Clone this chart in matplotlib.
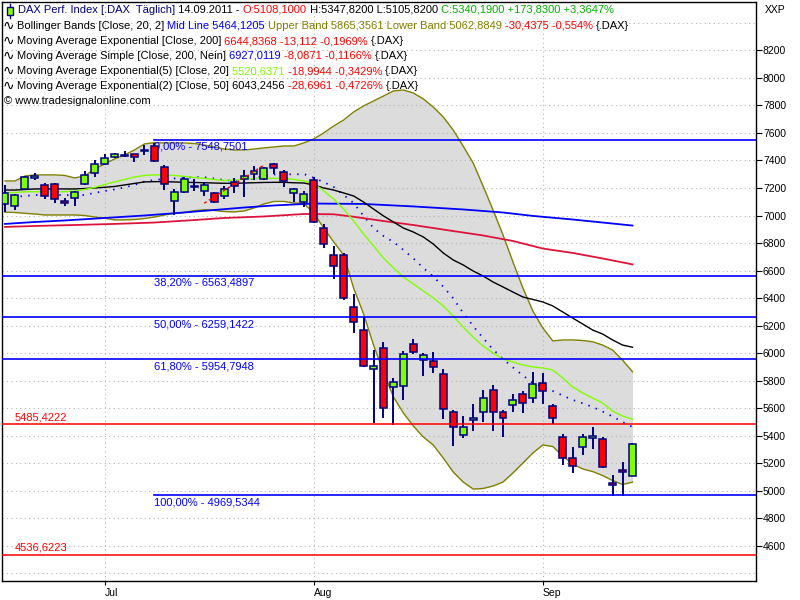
import matplotlib
matplotlib.use('agg')
import matplotlib.pyplot as plt
import numpy as np

# daily DAX bars, 17.06.2011 .. 14.09.2011 (bar index on the x axis)
opens = [7082, 7071, 7193, 7280, 7220, 7229, 7102, 7130, 7227, 7307,
         7372, 7423, 7434, 7447, 7470, 7505, 7355, 7108, 7169, 7211,
         7180, 7162, 7144, 7246, 7263, 7302, 7265, 7372, 7314, 7162,
         7101, 7258, 6907, 6713, 6713, 6338, 6168, 5887, 6036, 5757,
         5764, 6067, 5951, 5943, 5847, 5571, 5403, 5518, 5571, 5730,
         5571, 5621, 5701, 5672, 5781, 5616, 5393, 5236, 5316, 5392,
         5374, 5050, 5147, 5108.1]
highs = [7222, 7155, 7285, 7307, 7238, 7238, 7125, 7180, 7324, 7404,
         7447, 7455, 7471, 7450, 7512, 7529, 7367, 7191, 7282, 7263,
         7246, 7173, 7215, 7271, 7331, 7360, 7350, 7384, 7331, 7202,
         7180, 7282, 6936, 6779, 6730, 6428, 6265, 6023, 6083, 5818,
         6016, 6103, 5999, 6011, 5885, 5587, 5544, 5631, 5733, 5769,
         5587, 5704, 5725, 5861, 5854, 5629, 5413, 5316, 5413, 5462,
         5393, 5115, 5212, 5347.82]
lows = [7028, 7040, 7185, 7258, 7118, 7093, 7069, 7071, 7222, 7282,
        7370, 7415, 7423, 7391, 7440, 7391, 7185, 7004, 7160, 7178,
        7142, 7089, 7120, 7162, 7137, 7258, 7260, 7302, 7210, 7101,
        7060, 6945, 6766, 6536, 6386, 6144, 5902, 5491, 5527, 5478,
        5660, 5992, 5836, 5858, 5522, 5328, 5382, 5437, 5502, 5437,
        5389, 5575, 5563, 5636, 5629, 5483, 5188, 5132, 5260, 5304,
        5164, 4960, 4960, 5105.82]
closes = [7162, 7149, 7282, 7284, 7144, 7118, 7099, 7169, 7295, 7372,
          7416, 7447, 7437, 7428, 7472, 7398, 7227, 7169, 7265, 7208,
          7222, 7101, 7191, 7217, 7287, 7324, 7343, 7348, 7251, 7191,
          7157, 6951, 6791, 6636, 6403, 6229, 5909, 5905, 5600, 5791,
          5994, 6011, 5987, 5897, 5592, 5466, 5462, 5521, 5672, 5573,
          5527, 5660, 5636, 5776, 5725, 5527, 5236, 5180, 5393, 5394,
          5175, 5048, 5145, 5340.19]

month_pos = [10, 31, 54]
month_lbl = ['Jul', 'Aug', 'Sep']

# Bollinger Bands [Close, 20, 2]
bb_upper = [7251, 7251, 7287, 7295, 7295, 7295, 7291, 7273, 7287, 7338,
            7374, 7411, 7440, 7476, 7520, 7529, 7527, 7527, 7527, 7523,
            7512, 7498, 7483, 7476, 7476, 7483, 7491, 7498, 7505, 7505,
            7527, 7556, 7600, 7650, 7694, 7752, 7796, 7832, 7868, 7905,
            7912, 7890, 7847, 7788, 7716, 7621, 7505, 7382, 7214, 7040,
            6859, 6662, 6473, 6306, 6183, 6089, 6096, 6096, 6092, 6083,
            6059, 6023, 5950, 5865]
bb_mid = [7135, 7135, 7142, 7149, 7149, 7149, 7149, 7146, 7149, 7164,
          7178, 7189, 7204, 7222, 7247, 7258, 7265, 7269, 7273, 7278,
          7278, 7269, 7258, 7251, 7254, 7269, 7287, 7298, 7302, 7298,
          7302, 7273, 7243, 7207, 7149, 7091, 6997, 6909, 6851, 6808,
          6750, 6688, 6619, 6557, 6483, 6399, 6292, 6197, 6110, 6027,
          5958, 5896, 5838, 5783, 5754, 5725, 5692, 5660, 5636, 5609,
          5576, 5540, 5500, 5464]
bb_lower = [7024, 7022, 7016, 7011, 7004, 7004, 7004, 7004, 7000, 6989,
            6980, 6968, 6968, 6971, 6978, 6989, 7004, 7015, 7022, 7035,
            7042, 7037, 7029, 7026, 7033, 7055, 7084, 7102, 7102, 7091,
            7087, 7018, 6909, 6808, 6713, 6473, 6285, 6059, 5863, 5682,
            5565, 5471, 5391, 5333, 5238, 5137, 5064, 5013, 5017, 5035,
            5064, 5130, 5202, 5275, 5333, 5322, 5253, 5195, 5159, 5140,
            5111, 5075, 5046, 5063]

# Moving Average Exponential(5) [Close, 20]
ema20 = [7164, 7167, 7173, 7173, 7173, 7173, 7173, 7178, 7189, 7204,
         7225, 7244, 7262, 7280, 7291, 7295, 7295, 7291, 7284, 7276,
         7270, 7262, 7254, 7258, 7265, 7269, 7270, 7270, 7269, 7262,
         7251, 7233, 7178, 7120, 7047, 6960, 6866, 6779, 6691, 6619,
         6553, 6503, 6452, 6401, 6343, 6270, 6190, 6117, 6052, 6001,
         5958, 5936, 5914, 5900, 5892, 5878, 5820, 5754, 5711, 5674,
         5638, 5580, 5543, 5521]
# Moving Average Exponential(2) [Close, 50]
ema50 = [7185, 7185, 7189, 7193, 7193, 7193, 7193, 7193, 7196, 7200,
         7205, 7211, 7222, 7233, 7244, 7246, 7246, 7244, 7241, 7240,
         7238, 7236, 7234, 7234, 7236, 7238, 7240, 7241, 7241, 7238,
         7236, 7222, 7200, 7185, 7164, 7142, 7098, 7047, 6997, 6953,
         6909, 6880, 6844, 6793, 6728, 6677, 6641, 6597, 6561, 6517,
         6481, 6444, 6408, 6390, 6372, 6343, 6299, 6255, 6212, 6168,
         6139, 6096, 6059, 6043]
# Moving Average Simple [Close, 200]
sma200_idx = [0, 3, 6, 10, 14, 18, 21, 24, 27, 31, 36, 41, 46, 50, 53, 57, 60, 63]
sma200 = [6939, 6953, 6964, 6982, 7000, 7022, 7040, 7058, 7073, 7087,
          7084, 7066, 7044, 7022, 6997, 6971, 6949, 6927]
# Moving Average Exponential [Close, 200]
ema200_idx = [0, 3, 7, 11, 15, 19, 22, 26, 30, 33, 35, 38, 41, 44, 48, 51, 54, 57, 60, 63]
ema200 = [6917, 6924, 6931, 6939, 6949, 6967, 6982, 6993, 7011, 7009,
          6991, 6960, 6931, 6898, 6855, 6815, 6760, 6728, 6688, 6645]

trend_x = [20, 26]
trend_y = [7089, 7367]

fib_start = 15
fib_levels = [7548.7501, 6563.4897, 6259.1422, 5954.7948, 4969.5344]
fib_names = ['0,00%', '38,20%', '50,00%', '61,80%', '100,00%']
fib_full = [False, True, True, True, False]
red_levels = [5485.4222, 4536.6223]

header = [
    [('DAX Perf. Index [.DAX  Täglich]', '#000080'), (' 14.09.2011 - ', 'black'),
     ('O:5108,1000', '#ff0000'), (' H:5347,8200 L:5105,8200 ', 'black'),
     ('C:5340,1900 +173,8300 +3,3647%', '#00b000')],
    [('Bollinger Bands [Close, 20, 2] ', 'black'), ('Mid Line 5464,1205 ', '#0000ff'),
     ('Upper Band 5865,3561 Lower Band 5062,8849 ', '#808000'),
     ('-30,4375 -0,554% ', '#ff0000'), ('{.DAX}', 'black')],
    [('Moving Average Exponential [Close, 200] ', 'black'),
     ('6644,8368 -13,112 -0,1969% ', '#ff0000'), ('{.DAX}', 'black')],
    [('Moving Average Simple [Close, 200, Nein] ', 'black'), ('6927,0119 ', '#0000ff'),
     ('-8,0871 -0,1166% ', '#ff0000'), ('{.DAX}', 'black')],
    [('Moving Average Exponential(5) [Close, 20] ', 'black'), ('5520,6371 ', '#80ff00'),
     ('-18,9944 -0,3429% ', '#ff0000'), ('{.DAX}', 'black')],
    [('Moving Average Exponential(2) [Close, 50] ', 'black'), ('6043,2456 ', 'black'),
     ('-28,6961 -0,4726% ', '#ff0000'), ('{.DAX}', 'black')],
    [('© www.tradesignalonline.com', 'black')],
]

FONT = ['Liberation Sans', 'DejaVu Sans']
FS = 8.0

fig = plt.figure(figsize=(8, 6), dpi=100)
ax = fig.add_axes([2 / 800, 19 / 600, 754 / 800, 579 / 600])
ax.set_xlim(-0.3, 75.4)
ax.set_ylim(4345, 8551)

x = np.arange(len(opens))
o = np.array(opens, dtype=float)
c = np.array(closes, dtype=float)

# bands
ax.fill_between(x, bb_lower, bb_upper, color='#dcdcdc', lw=0, zorder=1)
ax.plot(x, bb_upper, color='#808000', lw=1, zorder=3)
ax.plot(x, bb_lower, color='#808000', lw=1, zorder=3)
ax.plot(x, bb_mid, color='#0000ff', lw=1.3, ls=(0, (0.8, 3.5)), zorder=3)

# grid
for lvl in range(4400, 8401, 200):
    ax.axhline(lvl, color='#b4b4b4', lw=0.8, ls=(0, (1, 3)), zorder=2)
for p in month_pos:
    ax.axvline(p, color='#b4b4b4', lw=0.8, ls=(0, (1, 3)), zorder=2)

ax.plot(sma200_idx, sma200, color='#0000ff', lw=1.3, zorder=3)
ax.plot(ema200_idx, ema200, color='#dc143c', lw=1.3, zorder=3)
ax.plot(x, ema50, color='black', lw=1, zorder=3)
ax.plot(x, ema20, color='#80ff00', lw=1, zorder=3)

# candles
up = c >= o
diff = np.abs(c - o)
mid = (o + c) / 2
lo = np.where(diff < 12, mid - 6, np.minimum(o, c))
hgt = np.maximum(diff, 12)
ax.vlines(x, lows, highs, color='#000080', lw=1.4, zorder=4)
ax.bar(x, hgt, bottom=lo, width=0.7, color=np.where(up, '#80ff00', '#ff0000'),
       edgecolor='#000080', linewidth=1.1, zorder=5)

ax.plot(trend_x, trend_y, color='#ff0000', lw=1, ls=(0, (2, 2)), zorder=6)

# fibonacci retracement
for lvl, name, full in zip(fib_levels, fib_names, fib_full):
    x0 = -0.3 if full else fib_start
    ax.plot([x0, 75.4], [lvl, lvl], color='#0000ff', lw=1.2, zorder=6)
    s = '{} - {}'.format(name, '{:.4f}'.format(lvl).replace('.', ','))
    ax.annotate(s, xy=(fib_start, lvl), xytext=(0, -2), textcoords='offset pixels',
                va='top', ha='left', color='#0000ff', family=FONT, fontsize=FS, zorder=3)
for lvl in red_levels:
    ax.axhline(lvl, color='#ff0000', lw=1.1, zorder=6)
    ax.annotate('{:.4f}'.format(lvl).replace('.', ','), xy=(13 / 754, lvl),
                xycoords=ax.get_yaxis_transform(), xytext=(0, 2), textcoords='offset pixels',
                va='bottom', ha='left', color='#ff0000', family=FONT, fontsize=FS, zorder=6)

# axes styling
ax.yaxis.tick_right()
ax.set_yticks(range(4600, 8201, 200))
ax.set_yticklabels([str(v) for v in range(4600, 8201, 200)])
ax.set_xticks(month_pos)
ax.set_xticklabels(month_lbl)
for lab in ax.get_xticklabels():
    lab.set_horizontalalignment('left')
ax.tick_params(axis='y', direction='out', length=4, width=0.8, pad=1, labelsize=7.5)
ax.tick_params(axis='x', direction='out', length=3, width=0.8, pad=2, labelsize=7.5)
for lab in ax.get_xticklabels() + ax.get_yticklabels():
    lab.set_family(FONT)
for sp in ax.spines.values():
    sp.set_linewidth(1)
    sp.set_color('black')

fig.text(765 / 800, 1 - 10 / 600, 'XXP', va='center', ha='left', family=FONT, fontsize=7.5)

# header legend
line_y = [10, 26, 41, 56, 71, 86, 101]
for n, (row, yy) in enumerate(zip(header, line_y)):
    if n == 0:
        x0 = 18
    elif n == len(header) - 1:
        x0 = 4
    else:
        x0 = 17
        ax.annotate('∿', xy=(3, 600 - yy), xycoords='figure pixels', va='center', ha='left',
                    family='DejaVu Sans', fontsize=10, zorder=7)
    t = ax.annotate(row[0][0], xy=(x0, 600 - yy), xycoords='figure pixels', va='center',
                    ha='left', color=row[0][1], family=FONT, fontsize=FS, zorder=7)
    for s, col in row[1:]:
        t = ax.annotate(s, xy=(1, 0), xycoords=t, va='bottom', ha='left', color=col,
                        family=FONT, fontsize=FS, zorder=7)

# small candle icon in front of the title
ax.add_patch(plt.Rectangle((7 / 800, 1 - 15 / 600), 6 / 800, 8 / 600, transform=fig.transFigure,
                           facecolor='#80ff00', edgecolor='#000080', lw=1, zorder=7))
ax.plot([10 / 800, 10 / 800], [1 - 18 / 600, 1 - 4 / 600], transform=fig.transFigure,
        color='#000080', lw=1, zorder=6.5, clip_on=False)

fig.savefig('out.png', dpi=100)
